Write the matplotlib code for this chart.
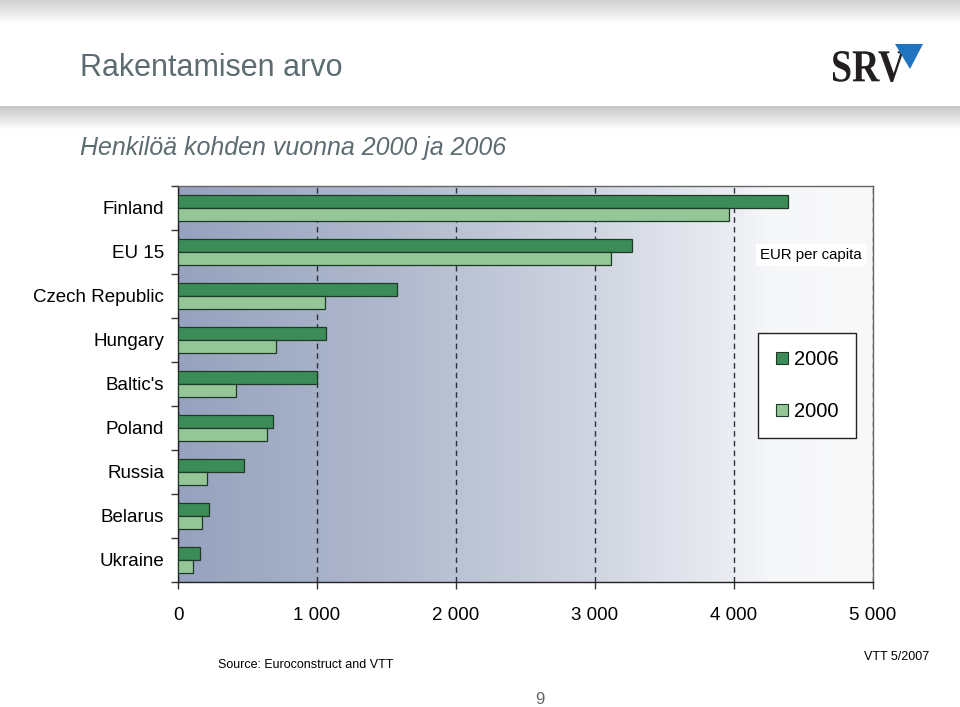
import numpy as np
import matplotlib.pyplot as plt
from matplotlib.lines import Line2D
from matplotlib.patches import Polygon, PathPatch
from matplotlib.textpath import TextPath
from matplotlib.font_manager import FontProperties
from matplotlib.transforms import Affine2D

plt.rcParams['font.family'] = ['Liberation Sans', 'DejaVu Sans']

# ---- data (EUR per capita) ----
countries = ["Finland", "EU 15", "Czech Republic", "Hungary", "Baltic's",
             "Poland", "Russia", "Belarus", "Ukraine"]
eur_2006 = [4390, 3265, 1575, 1065, 1000, 685, 475, 225, 160]
eur_2000 = [3965, 3115, 1060, 705, 420, 640, 210, 175, 110]
years = ["2006", "2000"]
x_ticks = [0, 1000, 2000, 3000, 4000, 5000]
x_labels = ["0", "1 000", "2 000", "3 000", "4 000", "5 000"]

C_2006 = "#3c8c57"
C_2000 = "#94c698"
EDGE = "#1d3a27"
TITLE_C = "#5d6c71"

W, H = 960, 707
fig = plt.figure(figsize=(W / 100, H / 100), dpi=100)


def fx(px):
    return px / W


def fy(py):
    return 1 - py / H


# ---- header shading bands ----
def band(top, bottom, dark):
    bax = fig.add_axes([0, fy(bottom), 1, (bottom - top) / H])
    g = np.linspace(dark, 1.0, 60)[:, None]
    bax.imshow(g, cmap="gray", vmin=0, vmax=1, aspect="auto",
               extent=[0, 1, 0, 1])
    bax.axis("off")


band(0, 24, 0.82)
band(106, 130, 0.78)

fig.text(fx(80), fy(68), "Rakentamisen arvo", fontsize=22, color=TITLE_C,
         va="center", ha="left")
fig.text(fx(80), fy(148), "Henkilöä kohden vuonna 2000 ja 2006", fontsize=18,
         style="italic", color=TITLE_C, va="center", ha="left")

# logo: text outline squeezed into its box
tp = TextPath((0, 0), "SRV", size=1,
              prop=FontProperties(family="Liberation Serif", weight="bold"))
bb = tp.get_extents()
to_fig = (Affine2D().translate(-bb.x0, -bb.y0)
          .scale(72 / bb.width, 31 / bb.height)
          .translate(833, H - 82)
          .scale(1 / W, 1 / H))
fig.patches.append(PathPatch(to_fig.transform_path(tp), transform=fig.transFigure,
                             facecolor="#231f20", edgecolor="none"))
fig.patches.append(Polygon([(fx(895), fy(44)), (fx(923), fy(44)), (fx(910), fy(69))],
                           closed=True, transform=fig.transFigure,
                           facecolor="#1f73bf", edgecolor="none"))

# ---- chart ----
ax = fig.add_axes([fx(178), fy(582), fx(873) - fx(178), (582 - 186) / H])

grad_pos = [0.0, 0.3, 0.6, 0.8, 0.85, 1.0]
grad_rgb = np.array([[150, 162, 190], [175, 184, 204], [208, 213, 225],
                     [235, 237, 242], [246, 247, 249], [249, 249, 250]]) / 255
t = np.linspace(0, 1, 600)
img = np.stack([np.interp(t, grad_pos, grad_rgb[:, k]) for k in range(3)], axis=-1)
ax.imshow(img[None, :, :], aspect="auto", extent=[0, 5000, 8.5, -0.5], zorder=0)

y = np.arange(len(countries))
ax.barh(y - 0.155, eur_2006, height=0.29, color=C_2006, edgecolor=EDGE,
        linewidth=0.9, zorder=3)
ax.barh(y + 0.155, eur_2000, height=0.29, color=C_2000, edgecolor=EDGE,
        linewidth=0.9, zorder=3)

ax.set_xlim(0, 5000)
ax.set_ylim(8.5, -0.5)
ax.set_xticks(x_ticks)
ax.set_xticklabels(x_labels, fontsize=13.5)
ax.set_yticks(y)
ax.set_yticklabels(countries, fontsize=13.5)
ax.set_yticks(np.arange(-0.5, 9, 1), minor=True)
ax.tick_params(axis="y", which="major", length=0, pad=10)
ax.tick_params(axis="y", which="minor", length=5, width=1, color="#333333")
ax.tick_params(axis="x", length=5, width=1, color="#333333", pad=13)

ax.xaxis.grid(True, linestyle=(0, (4, 3)), color="#2a3140", linewidth=1, zorder=1)
ax.set_axisbelow(True)
for s in ["top", "right"]:
    ax.spines[s].set_color("#666666")
    ax.spines[s].set_linewidth(1)
for s in ["left", "bottom"]:
    ax.spines[s].set_color("#222222")
    ax.spines[s].set_linewidth(1)

ax.text(4190, 1.07, "EUR per capita", fontsize=10.8, va="center", ha="left",
        zorder=5, bbox=dict(facecolor="white", edgecolor="none", pad=3))

handles = [Line2D([], [], marker="s", linestyle="none", markersize=9,
                  markerfacecolor=c, markeredgecolor=EDGE, markeredgewidth=0.8)
           for c in (C_2006, C_2000)]
leg = ax.legend(handles, years, loc="upper left",
                bbox_to_anchor=(fx(758), fy(333)), bbox_transform=fig.transFigure,
                fontsize=14.5, frameon=True, fancybox=False, edgecolor="#222222",
                framealpha=1, borderpad=0.85, labelspacing=1.65,
                handlelength=0.7, handletextpad=0.25, borderaxespad=0)
leg.get_frame().set_linewidth(1)
leg.set_zorder(6)

# ---- footer ----
fig.text(fx(218), fy(665), "Source: Euroconstruct and VTT", fontsize=9,
         va="center", ha="left")
fig.text(fx(929), fy(657), "VTT 5/2007", fontsize=9, va="center", ha="right")
fig.text(fx(540), fy(700), "9", fontsize=12, color="#666666", va="center",
         ha="center")

fig.savefig("out.png", dpi=100)
